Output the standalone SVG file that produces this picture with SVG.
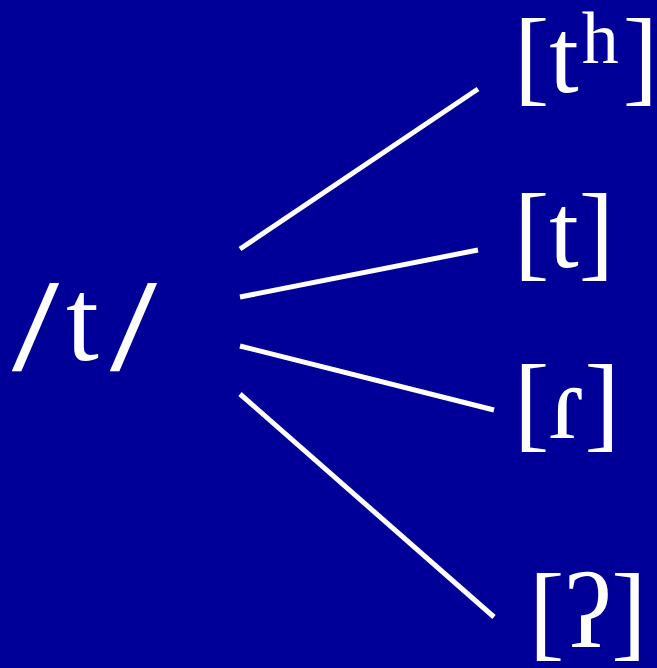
<svg xmlns="http://www.w3.org/2000/svg" width="657" height="668" viewBox="0 0 657 668">
<style>
.t{fill:#fff;font-family:"Liberation Serif","DejaVu Serif",serif;font-size:106px}
.s{fill:#fff;font-family:"Liberation Sans","DejaVu Sans",sans-serif;font-size:120px}
.c line{stroke:#fff;stroke-width:5}
</style>
<rect width="657" height="668" fill="#000099"/>
<g id="source">
<text class="s" transform="translate(12,370) skewX(-9)">/</text>
<text class="t" x="66" y="360" style="font-size:118px">t</text>
<text class="s" transform="translate(110,370) skewX(-9)">/</text>
</g>
<g class="c" id="connectors">
<line x1="240" y1="249" x2="478" y2="89"/>
<line x1="240" y1="297" x2="478" y2="250"/>
<line x1="240" y1="346" x2="494" y2="410"/>
<line x1="240" y1="394" x2="494" y2="617"/>
</g>
<g id="th"><text class="t" x="514" y="92">[t<tspan font-size="74" dx="3" dy="-29">h</tspan><tspan dx="4" dy="29">]</tspan></text></g>
<g id="t"><text class="t" x="514" y="267">[t]</text></g>
<g id="flap"><text class="t" x="514" y="438">[ɾ]</text></g>
<g id="glottal"><text class="t" x="529" y="647">[ʔ]</text></g>
</svg>
